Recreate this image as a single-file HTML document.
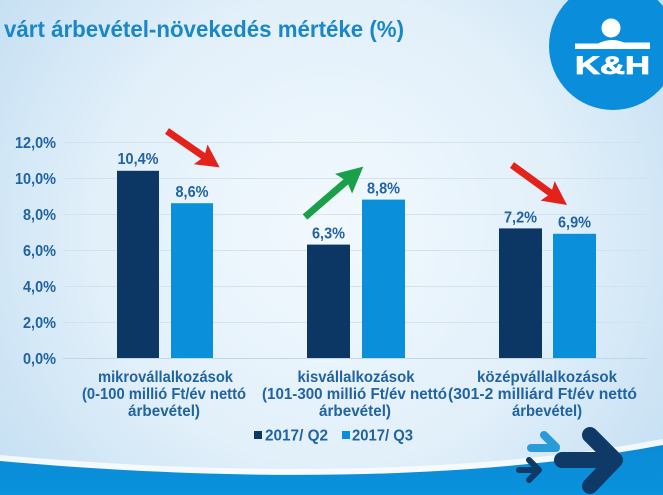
<!DOCTYPE html>
<html>
<head>
<meta charset="utf-8">
<style>
html,body{margin:0;padding:0;}
body{width:663px;height:495px;overflow:hidden;}
svg{display:block;}
text{font-family:"Liberation Sans",Arial,sans-serif;font-weight:bold;}
</style>
</head>
<body>
<svg width="663" height="495" viewBox="0 0 663 495" xmlns="http://www.w3.org/2000/svg">
<defs>
<radialGradient id="bg" cx="330" cy="230" r="420" gradientUnits="userSpaceOnUse">
<stop offset="0" stop-color="#f2f9fe"/>
<stop offset="0.55" stop-color="#e2f0fa"/>
<stop offset="1" stop-color="#c3def2"/>
</radialGradient>
<linearGradient id="wave" x1="0" y1="445" x2="0" y2="495" gradientUnits="userSpaceOnUse">
<stop offset="0" stop-color="#0b8ad5"/>
<stop offset="1" stop-color="#0a92dc"/>
</linearGradient>
</defs>
<rect x="0" y="0" width="663" height="495" fill="url(#bg)"/>

<!-- bottom wave -->
<path d="M0 458 C 200 476, 450 482, 663 442" fill="none" stroke="#ffffff" stroke-opacity="0.75" stroke-width="6"/>
<path d="M0 461 C 200 479, 450 485, 663 445 L663 495 L0 495 Z" fill="url(#wave)"/>

<!-- title -->
<text x="4" y="37" font-size="23" fill="#1a87c9" textLength="400" lengthAdjust="spacingAndGlyphs">várt árbevétel-növekedés mértéke (%)</text>

<!-- logo -->
<circle cx="613" cy="46" r="64" fill="#0a8ddb"/>
<circle cx="611" cy="28" r="9.5" fill="#ffffff"/>
<path d="M575 49 L575 43.5 L598 43.5 Q611 37 624 42.5 L650 42.5 L650 49 Z" fill="#ffffff"/>
<text x="575" y="74" font-size="25" font-weight="900" fill="#ffffff" textLength="75" lengthAdjust="spacingAndGlyphs" stroke="#ffffff" stroke-width="0.8">K&amp;H</text>

<!-- gridlines -->
<g stroke="#d3e2ee" stroke-width="1">
<line x1="63" y1="142.5" x2="647" y2="142.5"/>
<line x1="63" y1="178.5" x2="647" y2="178.5"/>
<line x1="63" y1="214.5" x2="647" y2="214.5"/>
<line x1="63" y1="250.5" x2="647" y2="250.5"/>
<line x1="63" y1="286.5" x2="647" y2="286.5"/>
<line x1="63" y1="322.5" x2="647" y2="322.5"/>
</g>
<line x1="63" y1="358.5" x2="647" y2="358.5" stroke="#c4d6e5" stroke-width="1"/>

<!-- y labels -->
<g font-size="15.5" fill="#2263a2" text-anchor="end">
<text x="56" y="148" textLength="41" lengthAdjust="spacingAndGlyphs">12,0%</text>
<text x="56" y="184" textLength="41" lengthAdjust="spacingAndGlyphs">10,0%</text>
<text x="56" y="220" textLength="33" lengthAdjust="spacingAndGlyphs">8,0%</text>
<text x="56" y="256" textLength="33" lengthAdjust="spacingAndGlyphs">6,0%</text>
<text x="56" y="292" textLength="33" lengthAdjust="spacingAndGlyphs">4,0%</text>
<text x="56" y="328" textLength="33" lengthAdjust="spacingAndGlyphs">2,0%</text>
<text x="56" y="364" textLength="33" lengthAdjust="spacingAndGlyphs">0,0%</text>
</g>

<!-- bars -->
<g fill="#0c3765">
<rect x="117" y="170.8" width="42" height="187.2"/>
<rect x="307" y="244.6" width="43" height="113.4"/>
<rect x="499" y="228.4" width="43" height="129.6"/>
</g>
<g fill="#0a90da">
<rect x="171" y="203.2" width="42" height="154.8"/>
<rect x="362" y="199.6" width="43" height="158.4"/>
<rect x="553" y="233.8" width="43" height="124.2"/>
</g>

<!-- data labels -->
<g font-size="15.5" fill="#2263a2" text-anchor="middle">
<text x="138" y="164" textLength="41" lengthAdjust="spacingAndGlyphs">10,4%</text>
<text x="192" y="197" textLength="33" lengthAdjust="spacingAndGlyphs">8,6%</text>
<text x="328.5" y="238.5" textLength="33" lengthAdjust="spacingAndGlyphs">6,3%</text>
<text x="383.5" y="193.5" textLength="33" lengthAdjust="spacingAndGlyphs">8,8%</text>
<text x="520.5" y="222.5" textLength="33" lengthAdjust="spacingAndGlyphs">7,2%</text>
<text x="574.5" y="227.5" textLength="33" lengthAdjust="spacingAndGlyphs">6,9%</text>
</g>

<!-- trend arrows -->
<g transform="translate(167,131) rotate(34.7)">
<polygon points="0,-3.5 44,-3.5 41,-12 64,0 41,12 44,3.5 0,3.5" fill="#e3221c"/>
</g>
<g transform="translate(512,165) rotate(36)">
<polygon points="0,-3.5 47,-3.5 44,-12 68,0 44,12 47,3.5 0,3.5" fill="#e3221c"/>
</g>
<g transform="translate(305,217) rotate(-40.8)">
<polygon points="0,-3.5 54,-3.5 51,-13 77,0 51,13 54,3.5 0,3.5" fill="#1a9f4b"/>
</g>

<!-- category labels -->
<g font-size="16" fill="#2263a2" text-anchor="middle">
<text x="165.5" y="382" textLength="135" lengthAdjust="spacingAndGlyphs">mikrovállalkozások</text>
<text x="164" y="399" textLength="164" lengthAdjust="spacingAndGlyphs">(0-100 millió Ft/év nettó</text>
<text x="164" y="416" textLength="72" lengthAdjust="spacingAndGlyphs">árbevétel)</text>
<text x="356" y="382" textLength="117" lengthAdjust="spacingAndGlyphs">kisvállalkozások</text>
<text x="354.5" y="399" textLength="185" lengthAdjust="spacingAndGlyphs">(101-300 millió Ft/év nettó</text>
<text x="355" y="416" textLength="72" lengthAdjust="spacingAndGlyphs">árbevétel)</text>
<text x="547" y="382" textLength="140" lengthAdjust="spacingAndGlyphs">középvállalkozások</text>
<text x="542.5" y="399" textLength="189" lengthAdjust="spacingAndGlyphs">(301-2 milliárd Ft/év nettó</text>
<text x="547" y="416" textLength="70" lengthAdjust="spacingAndGlyphs">árbevétel)</text>
</g>

<!-- legend -->
<rect x="254" y="431" width="8" height="8" fill="#0c3765"/>
<text x="265" y="440.5" font-size="16" fill="#2263a2" textLength="63" lengthAdjust="spacingAndGlyphs">2017/ Q2</text>
<rect x="342" y="431" width="8" height="8" fill="#0a90da"/>
<text x="352" y="440.5" font-size="16" fill="#2263a2" textLength="61" lengthAdjust="spacingAndGlyphs">2017/ Q3</text>

<!-- decorative arrows bottom right -->
<g fill="none" stroke-linecap="round" stroke-linejoin="round">
<path d="M531 448 L556 448 M544 435 L556 447" stroke="#2a9bd9" stroke-width="8"/>
<path d="M519 470 L539 470 M529 460 L539 470 L529 480" stroke="#0f3a68" stroke-width="6"/>
<path d="M562 460 L614 460 M590 435 L615 460 L590 486" stroke="#0f3a68" stroke-width="16"/>
</g>
</svg>
</body>
</html>
